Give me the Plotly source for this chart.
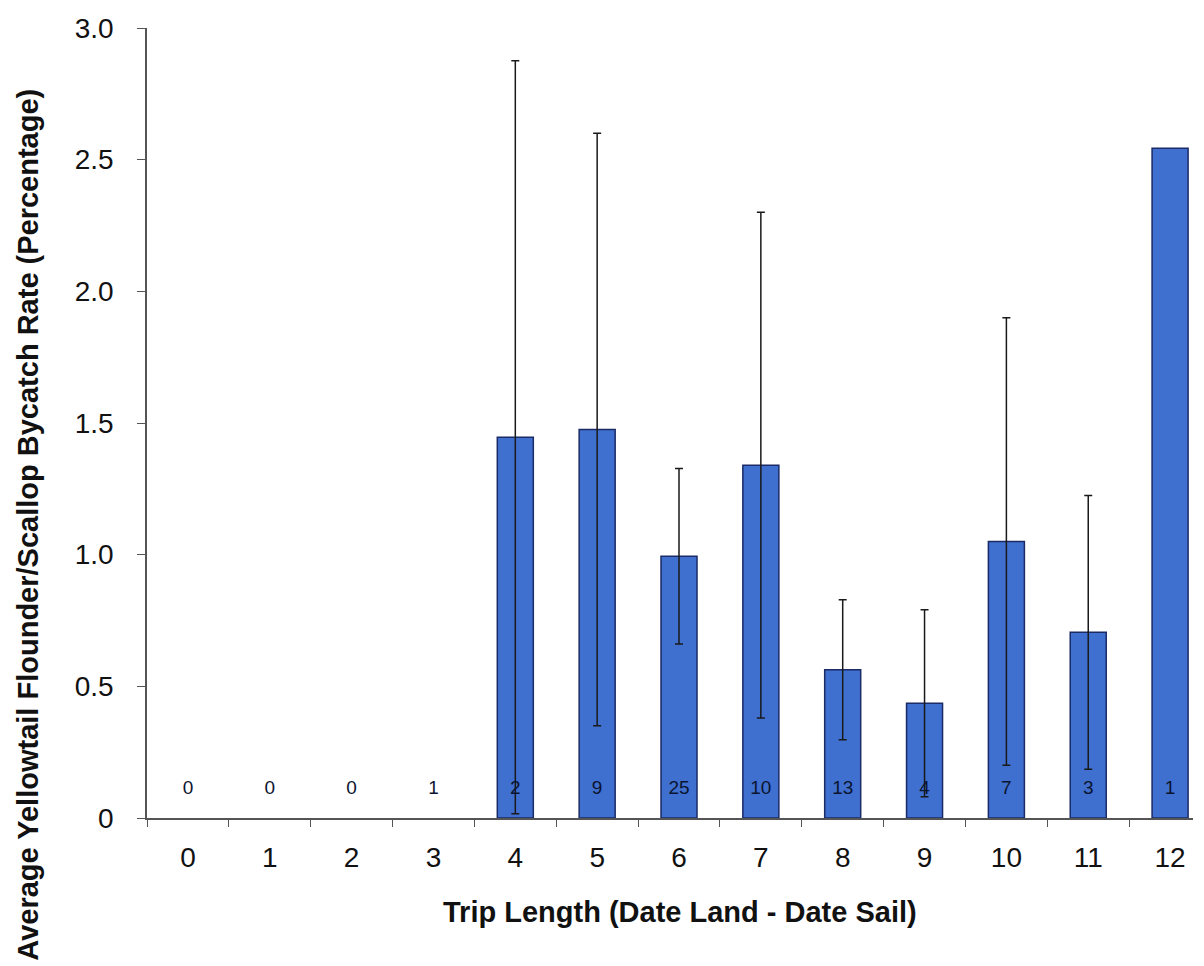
import plotly.graph_objects as go

trip_length = ["0", "1", "2", "3", "4", "5", "6", "7", "8", "9", "10", "11", "12"]
bycatch_rate = [0, 0, 0, 0, 1.446, 1.475, 0.994, 1.34, 0.563, 0.436, 1.05, 0.705, 2.543]
error = [None, None, None, None, 1.43, 1.125, 0.333, 0.96, 0.266, 0.355, 0.85, 0.52, None]
trip_counts = ["0", "0", "0", "1", "2", "9", "25", "10", "13", "4", "7", "3", "1"]
count_label_y = 0.11

y_tickvals = [0, 0.5, 1.0, 1.5, 2.0, 2.5, 3.0]
y_ticktext = ["0", "0.5", "1.0", "1.5", "2.0", "2.5", "3.0"]

FONT = "Arial, 'Liberation Sans', sans-serif"

outline_widths = [1.5 if v > 0 else 0 for v in bycatch_rate]
fill_colors = ["#3f6fcf" if v > 0 else "rgba(0,0,0,0)" for v in bycatch_rate]

# points that carry an error bar
err_idx = [i for i, e in enumerate(error) if e is not None]
err_x = [trip_length[i] for i in err_idx]
err_y = [bycatch_rate[i] for i in err_idx]
err_v = [error[i] for i in err_idx]

fig = go.Figure()
fig.add_trace(go.Bar(
    x=trip_length, y=bycatch_rate, width=0.44,
    marker=dict(color=fill_colors, line=dict(color="#1a2b66", width=outline_widths)),
    showlegend=False, hoverinfo="skip",
))
fig.add_trace(go.Scatter(
    x=err_x, y=err_y, mode="markers",
    marker=dict(size=0.1, color="rgba(0,0,0,0)"),
    error_y=dict(type="data", array=err_v, visible=True, color="#1a1a1a",
                 thickness=1.5, width=4),
    showlegend=False, hoverinfo="skip",
))
fig.add_trace(go.Scatter(
    x=trip_length, y=[count_label_y] * len(trip_length), mode="text",
    text=trip_counts, textposition="middle center",
    textfont=dict(family=FONT, size=19, color="#0b1530"),
    showlegend=False, hoverinfo="skip",
))

fig.update_layout(
    width=1204, height=966,
    margin=dict(l=139, r=19, t=20, b=156, autoexpand=False),
    paper_bgcolor="white", plot_bgcolor="white",
    font=dict(family=FONT, color="#111111"),
    xaxis=dict(
        type="category", range=[-0.5, 12.28], automargin=False,
        categoryorder="array", categoryarray=trip_length,
        showline=True, linecolor="#555555", linewidth=1.5,
        ticks="outside", tickson="boundaries", ticklen=7, tickcolor="#555555",
        tickfont=dict(size=28, family=FONT, color="#111111"),
        ticklabelstandoff=14,
        showgrid=False, zeroline=False,
    ),
    yaxis=dict(
        range=[0, 3.0], tickvals=y_tickvals, ticktext=y_ticktext, automargin=False,
        showline=True, linecolor="#555555", linewidth=1.5,
        ticks="outside", ticklen=8, tickcolor="#555555",
        tickfont=dict(size=28, family=FONT, color="#111111"),
        ticklabelstandoff=18,
        showgrid=False, zeroline=False,
    ),
    annotations=[
        dict(text="<b>Trip Length (Date Land - Date Sail)</b>", xref="paper", yref="paper",
             x=0.5096, y=-0.119, xanchor="center", yanchor="middle", showarrow=False,
             font=dict(size=29, family=FONT, color="#111111")),
        dict(text="<b>Average Yellowtail Flounder/Scallop Bycatch Rate (Percentage)</b>",
             xref="paper", yref="paper", x=-0.114, y=0.371, xanchor="center", yanchor="middle",
             textangle=-90, showarrow=False,
             font=dict(size=29, family=FONT, color="#111111")),
    ],
)

fig.write_html("out.html")
